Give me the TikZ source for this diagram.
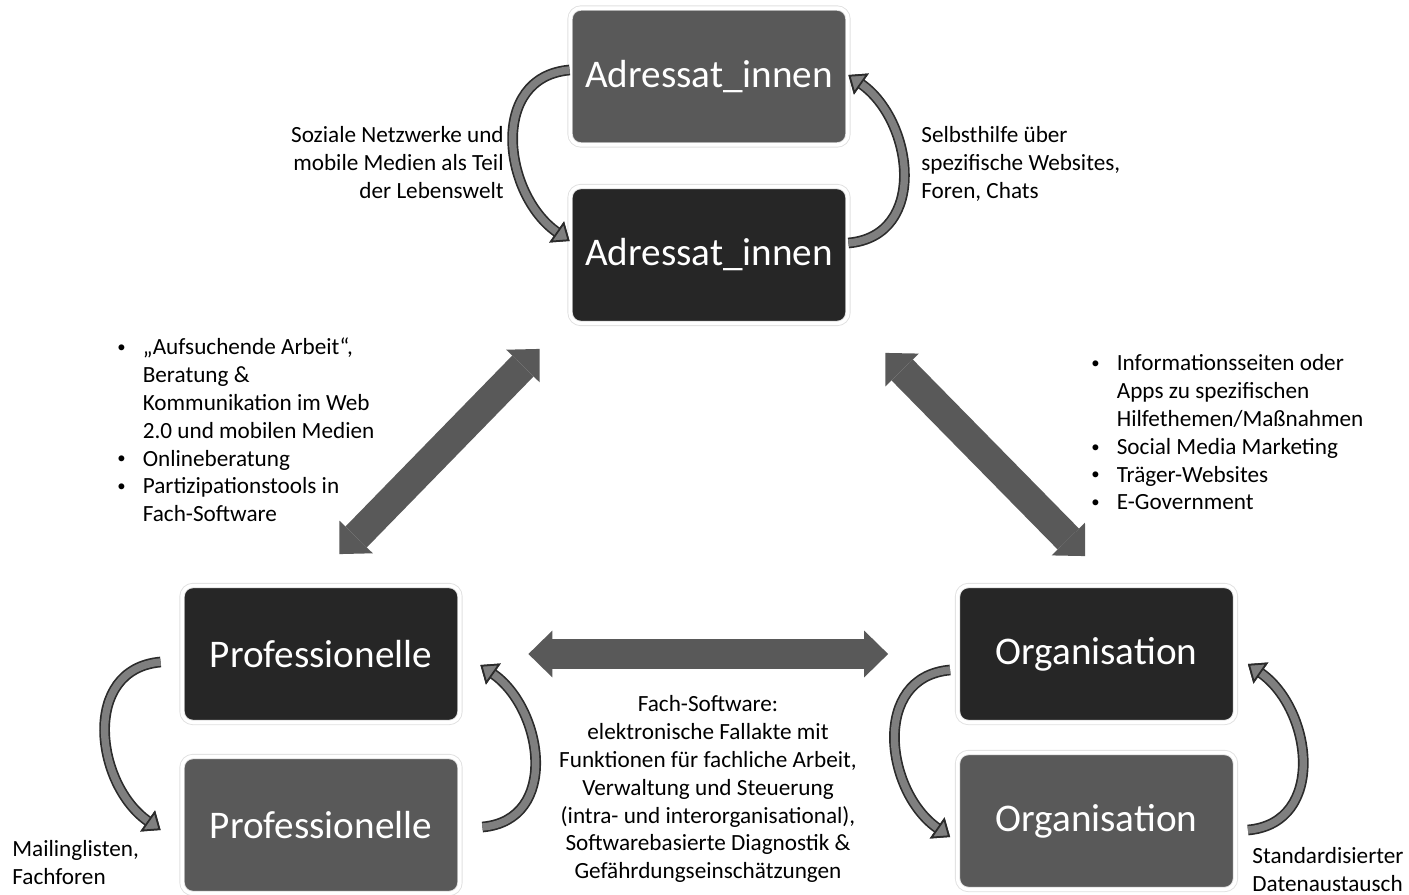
\documentclass[tikz,border=0pt]{standalone}
\usepackage{fontspec}
\setmainfont{Carlito}
\usetikzlibrary{arrows.meta}
\definecolor{BoxDark}{HTML}{262626}
\definecolor{BoxGray}{HTML}{595959}
\definecolor{BandGray}{HTML}{7F7F7F}
\definecolor{BandLine}{HTML}{2B2B2B}
\newcommand{\itemdot}{\raisebox{1.2pt}{\fontsize{9.5}{9.5}\selectfont •}}

\begin{document}
\begin{tikzpicture}[
			x=0.02cm, y=0.02cm,
			MyBox/.style={rounded corners=0.22cm, minimum width=5.56cm, minimum height=2.74cm,
				draw=black!12, double=white, double distance=2pt, line width=0.5pt,
				text=white, font=\fontsize{22.3}{26}\selectfont, inner sep=0pt},
			MyText/.style={inner sep=0pt, font=\fontsize{13.2}{15.9}\selectfont},
			MyLoop/.style={draw=BandGray, line width=4.2pt, looseness=1.22,
				-{Triangle[length=9pt, width=14.5pt, fill=BandGray, color=BandLine, line width=1pt]},
				preaction={draw=BandLine, line width=6.1pt}},
			MyLink/.style={draw=BoxGray, line width=17pt,
				{Triangle[length=13.6pt, width=26.6pt, line width=0pt]}-{Triangle[length=13.6pt, width=26.6pt, line width=0pt]}},
			]
			\useasboundingbox (0,0) rectangle (1409,-895);
			\node [MyBox, fill=BoxGray] (A1) at (709,-76.5) {Adressat\_innen};
			\node [MyBox, fill=BoxDark] (A2) at (709,-255) {Adressat\_innen};
			\node [MyBox, fill=BoxDark] (P1) at (321,-654) {Professionelle};
			\node [MyBox, fill=BoxGray] (P2) at (321,-825) {Professionelle};
			\node [MyBox, fill=BoxDark] (O1) at (1096.5,-654) {Organisation};
			\node [MyBox, fill=BoxGray] (O2) at (1096.5,-821) {Organisation};
			% labels
			\node [MyText, anchor=north east] (tA1) at (504,-122.4) {\begin{tabular}{@{}r@{}}
					Soziale Netzwerke und\\ mobile Medien als Teil\\ der Lebenswelt\end{tabular}};
			\node [MyText, anchor=north west] (tA2) at (921,-122.4) {\begin{tabular}{@{}l@{}}
					Selbsthilfe über\\ spezifische Websites,\\ Foren, Chats\end{tabular}};
			\node [MyText, anchor=north west] (tAP) at (117,-334.4) {\begin{tabular}{@{}p{14.5pt}@{}l@{}}
					\itemdot & „Aufsuchende Arbeit“,\\ & Beratung \&\\ & Kommunikation im Web\\ & 2.0 und mobilen Medien\\
					\itemdot & Onlineberatung\\ \itemdot & Partizipationstools in\\ & Fach-Software\end{tabular}};
			\node [MyText, anchor=north west] (tAO) at (1091,-350.4) {\begin{tabular}{@{}p{14.5pt}@{}l@{}}
					\itemdot & Informationsseiten oder\\ & Apps zu spezifischen\\ & Hilfethemen/Maßnahmen\\
					\itemdot & Social Media Marketing\\ \itemdot & Träger-Websites\\ \itemdot & E-Government\end{tabular}};
			\node [MyText, anchor=north] (tPO) at (708,-691.4) {\begin{tabular}{@{}c@{}}
					Fach-Software:\\ elektronische Fallakte mit\\ Funktionen für fachliche Arbeit,\\
					Verwaltung und Steuerung\\ (intra- und interorganisational),\\
					Softwarebasierte Diagnostik \&\\ Gefährdungseinschätzungen\end{tabular}};
			\node [MyText, anchor=north west] (tP) at (12,-836.4) {\begin{tabular}{@{}l@{}}
					Mailinglisten,\\ Fachforen\end{tabular}};
			\node [MyText, anchor=north west] (tO) at (1252,-843.4) {\begin{tabular}{@{}l@{}}
					Standardisierter\\ Datenaustausch\end{tabular}};
			% links between the groups
			\draw [MyLink] ([xshift=-0.6cm, yshift=-0.5cm]A2.south west) -- ([xshift=-2.42cm, yshift=0.62cm]P1.north east);
			\draw [MyLink] ([xshift=0.74cm, yshift=-0.58cm]A2.south east) -- ([xshift=2.56cm, yshift=0.58cm]O1.north west);
			\draw [MyLink] ([xshift=1.36cm]P1.east) -- ([xshift=-1.38cm]O1.west);
			% loops within the groups
			\begin{scope}
				\draw [MyLoop] ([yshift=0.13cm]A1.west) to [out=185, in=145] ([yshift=0.28cm]A2.west);
				\draw [MyLoop] ([yshift=0.24cm]A2.east) to [out=5, in=-35] ([yshift=0.03cm]A1.east);
				\draw [MyLoop] ([xshift=-0.42cm, yshift=-0.16cm]P1.west) to [out=185, in=145] ([xshift=-0.42cm, yshift=-0.1cm]P2.west);
				\draw [MyLoop] ([xshift=0.44cm, yshift=-0.04cm]P2.east) to [out=5, in=-35] ([xshift=0.4cm, yshift=-0.22cm]P1.east);
				\draw [MyLoop] ([xshift=-0.14cm, yshift=-0.32cm]O1.west) to [out=185, in=145] ([xshift=-0.14cm, yshift=-0.32cm]O2.west);
				\draw [MyLoop] ([xshift=0.24cm, yshift=-0.18cm]O2.east) to [out=5, in=-35] ([xshift=0.24cm, yshift=-0.2cm]O1.east);
			\end{scope}
		\end{tikzpicture}
\end{document}
